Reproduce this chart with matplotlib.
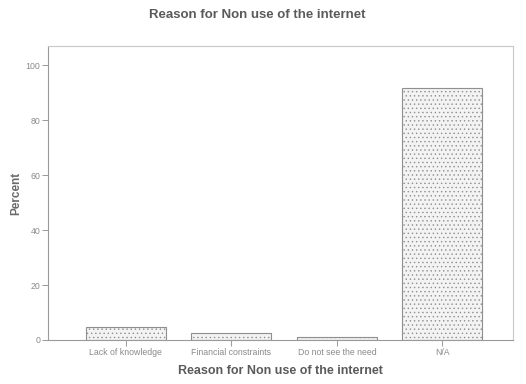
import matplotlib
matplotlib.use("Agg")
import matplotlib.pyplot as plt

# Survey responses: reason for not using the internet (percent of respondents)
categories = ["Lack of knowledge", "Financial constraints", "Do not see the need", "N/A"]
percent = [4.6, 2.5, 1.0, 91.5]
y_ticks = [0, 20, 40, 60, 80, 100]

plt.rcParams["font.family"] = ["Liberation Sans", "DejaVu Sans"]
plt.rcParams["hatch.color"] = "#d6d6d6"
plt.rcParams["hatch.linewidth"] = 0.5

fig = plt.figure(figsize=(5.26, 3.84), dpi=100)
ax = fig.add_axes([0.091, 0.1146, 0.884, 0.7654])

x = list(range(len(categories)))
ax.bar(x, percent, width=0.758, color="#f3f3f3", edgecolor="#8f8f8f",
       linewidth=0.8, hatch="....")

ax.set_xlim(-0.739, 3.668)
ax.set_ylim(0, 106.9)
ax.set_xticks(x)
ax.set_xticklabels(categories)
ax.set_yticks(y_ticks)
ax.set_yticklabels([str(v) for v in y_ticks])

ax.tick_params(axis="both", labelsize=6.3, colors="#9a9a9a", length=4, width=0.7,
               labelcolor="#8a8a8a", pad=1.5)
for side in ["left", "bottom", "top", "right"]:
    ax.spines[side].set_color("#9a9a9a")
    ax.spines[side].set_linewidth(0.8)
ax.spines["top"].set_color("#c8c8c8")
ax.spines["right"].set_color("#c8c8c8")

ax.set_xlabel("Reason for Non use of the internet", fontsize=9, fontweight="bold",
              color="#5a5a5a", labelpad=6)
ax.set_ylabel("Percent", fontsize=8.5, fontweight="bold", color="#6a6a6a", labelpad=2)
fig.text(0.49, 0.962, "Reason for Non use of the internet", ha="center", va="center",
         fontsize=9.5, fontweight="bold", color="#5a5a5a")

fig.savefig("out.png", dpi=100)
